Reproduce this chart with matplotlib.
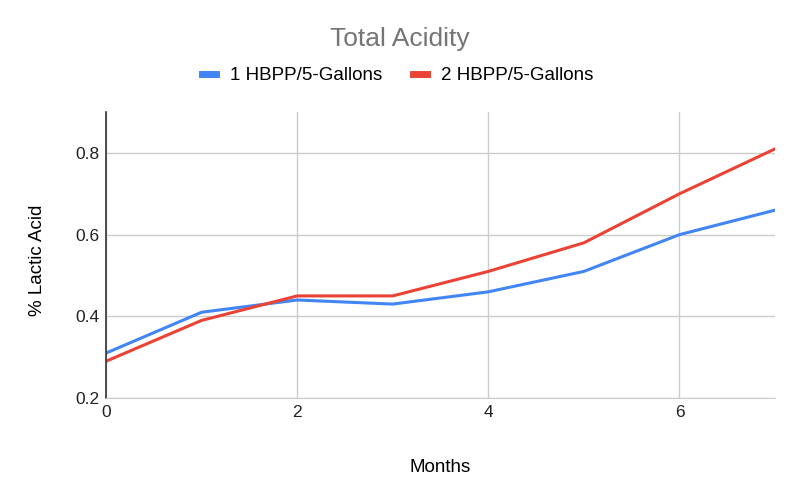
import numpy as np
import matplotlib.pyplot as plt

plt.rcParams['font.family'] = ['Liberation Sans', 'DejaVu Sans']

months = [0, 1, 2, 3, 4, 5, 6, 7]
one_hbpp = [0.31, 0.41, 0.44, 0.43, 0.46, 0.51, 0.60, 0.66]
two_hbpp = [0.29, 0.39, 0.45, 0.45, 0.51, 0.58, 0.70, 0.81]
series_names = ['1 HBPP/5-Gallons', '2 HBPP/5-Gallons']

fig = plt.figure(figsize=(8, 4.94), dpi=100)
ax = fig.add_axes([0.1325, 0.1943, 0.8363, 0.5787])

ax.plot(months, one_hbpp, color='#4285f4', lw=2.2, label=series_names[0])
ax.plot(months, two_hbpp, color='#ea4335', lw=2.2, label=series_names[1])

ax.set_xlim(0, 7)
ax.set_ylim(0.2, 0.9)
ax.set_xticks([0, 2, 4, 6])
ax.set_yticks([0.2, 0.4, 0.6, 0.8])
ax.set_yticklabels(['0.2', '0.4', '0.6', '0.8'])
ax.grid(True, color='#cccccc', lw=1)
ax.set_axisbelow(True)
for s in ['top', 'right']:
    ax.spines[s].set_visible(False)
ax.spines['left'].set_color('#333333')
ax.spines['left'].set_linewidth(1.2)
ax.spines['bottom'].set_color('#cccccc')
ax.tick_params(length=0, labelsize=12.5, colors='#222222', pad=5)

ax.set_xlabel('Months', fontsize=13.5)
ax.xaxis.set_label_coords(0.5, -0.215)
ax.set_ylabel('% Lactic Acid', fontsize=13.5)
ax.yaxis.set_label_coords(-0.09, 0.48)

fig.text(0.5, 0.922, 'Total Acidity', ha='center', va='center', fontsize=19, color='#757575')
leg = fig.legend(loc='center', bbox_to_anchor=(0.497, 0.848), ncol=2, frameon=False,
                 fontsize=13.5, handlelength=0.75, handleheight=0.5, columnspacing=1.6, handletextpad=0.75)
for h in leg.get_lines():
    h.set_linewidth(5)

fig.savefig('out.png', dpi=100)
